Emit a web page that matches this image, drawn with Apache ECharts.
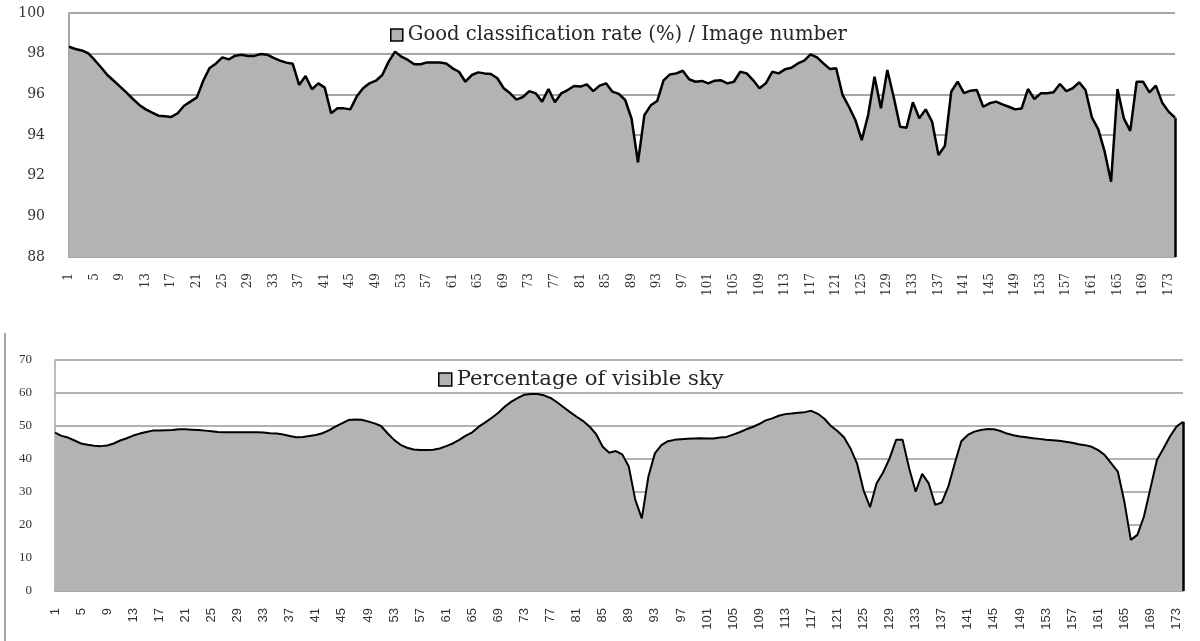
<!DOCTYPE html>
<html><head><meta charset="utf-8">
<script src="https://cdn.jsdelivr.net/npm/echarts@6/dist/echarts.min.js"></script>
<style>html,body{margin:0;padding:0;background:#fff}#c{width:1200px;height:641px}</style>
</head><body><div id="c"></div>
<script>
// Image numbers 1..174 (category labels)
const categories = [];
for (let i = 1; i <= 174; i++) categories.push(String(i));

const rateName = 'Good classification rate (%) / Image number';
const skyName = 'Percentage of visible sky';

const rateTicks = { min: 88, max: 100, interval: 2 };
const skyTicks = { min: 0, max: 70, interval: 10 };

const rateValues = [
  98.34, 98.23, 98.16, 98.02, 97.69, 97.33, 96.95, 96.67, 96.38, 96.08,
  95.77, 95.48, 95.26, 95.10, 94.95, 94.92, 94.89, 95.07, 95.44, 95.64,
  95.85, 96.67, 97.30, 97.52, 97.82, 97.72, 97.90, 97.95, 97.89, 97.89,
  97.98, 97.95, 97.79, 97.66, 97.56, 97.50, 96.46, 96.90, 96.25, 96.54,
  96.33, 95.07, 95.31, 95.31, 95.26, 95.89, 96.30, 96.54, 96.67, 96.95,
  97.61, 98.10, 97.85, 97.69, 97.48, 97.48, 97.57, 97.57, 97.56, 97.52,
  97.28, 97.11, 96.62, 96.95, 97.08, 97.03, 97.00, 96.79, 96.30, 96.05,
  95.74, 95.87, 96.16, 96.05, 95.64, 96.26, 95.61, 96.05, 96.21, 96.41,
  96.38, 96.49, 96.16, 96.43, 96.54, 96.13, 96.02, 95.72, 94.80, 92.65,
  94.98, 95.46, 95.67, 96.69, 96.98, 97.03, 97.16, 96.74, 96.62, 96.66,
  96.54, 96.67, 96.69, 96.54, 96.62, 97.11, 97.03, 96.70, 96.30, 96.54,
  97.11, 97.03, 97.23, 97.31, 97.52, 97.66, 97.97, 97.82, 97.52, 97.25,
  97.28, 95.97, 95.39, 94.74, 93.75, 94.98, 96.87, 95.31, 97.20, 95.87,
  94.41, 94.36, 95.61, 94.82, 95.26, 94.66, 93.02, 93.46, 96.13, 96.62,
  96.06, 96.18, 96.21, 95.39, 95.56, 95.64, 95.51, 95.39, 95.26, 95.30,
  96.26, 95.77, 96.05, 96.05, 96.10, 96.51, 96.16, 96.30, 96.59, 96.21,
  94.87, 94.28, 93.18, 91.70, 96.26, 94.82, 94.20, 96.62, 96.62, 96.10,
  96.43, 95.59, 95.15, 94.85
];

const skyValues = [
  48.0, 47.0, 46.5, 45.6, 44.7, 44.3, 44.0, 43.9, 44.1, 44.7,
  45.6, 46.3, 47.1, 47.7, 48.2, 48.6, 48.6, 48.7, 48.8, 49.0,
  49.0, 48.9, 48.8, 48.6, 48.4, 48.2, 48.1, 48.1, 48.1, 48.1,
  48.1, 48.1, 48.0, 47.8, 47.7, 47.4, 47.0, 46.6, 46.7, 47.0,
  47.3, 47.8, 48.7, 49.8, 50.8, 51.8, 52.0, 51.9, 51.4, 50.8,
  50.0, 47.8, 45.8, 44.3, 43.4, 42.9, 42.7, 42.7, 42.8, 43.2,
  43.9, 44.7, 45.8, 47.1, 48.1, 49.8, 51.1, 52.5, 54.0, 55.9,
  57.4, 58.5, 59.5, 59.7, 59.7, 59.3, 58.5, 57.2, 55.7, 54.2,
  52.8, 51.5, 49.8, 47.5, 43.7, 41.9, 42.4, 41.4, 37.7, 27.6,
  22.0, 34.6, 41.7, 44.2, 45.4, 45.8, 46.0, 46.1, 46.2, 46.3,
  46.2, 46.2, 46.5, 46.7, 47.4, 48.1, 49.0, 49.7, 50.6, 51.7,
  52.3, 53.1, 53.6, 53.8, 54.0, 54.2, 54.6, 53.7, 52.2, 50.0,
  48.5, 46.6, 43.2, 38.7, 30.6, 25.4, 32.6, 35.9, 40.2, 45.8,
  45.8, 37.2, 30.1, 35.5, 32.6, 26.1, 26.8, 31.6, 38.7, 45.4,
  47.3, 48.3, 48.8, 49.1, 49.0, 48.5, 47.7, 47.2, 46.8, 46.6,
  46.3, 46.1, 45.8, 45.7, 45.5, 45.2, 44.9, 44.5, 44.2, 43.7,
  42.7, 41.2, 38.7, 36.2, 27.1, 15.5, 17.0, 22.5, 31.1, 39.7,
  43.2, 46.8, 49.8, 51.3
];

const chart = echarts.init(document.getElementById('c'));
const lastCat = categories[categories.length - 1];
const grey = '#a6a6a6';
const fill = '#b3b3b3';

chart.setOption({
  animation: false,
  backgroundColor: '#fff',
  graphic: [{
    type: 'line', shape: { x1: 5, y1: 333, x2: 5, y2: 641 },
    style: { stroke: grey, lineWidth: 2 }
  }],
  grid: [
    { left: 69, right: 25, top: 13, height: 244 },
    { left: 55, right: 17, top: 360, height: 231 }
  ],
  legend: [
    {
      data: [rateName], left: 390, top: 25, padding: 0,
      icon: 'rect', itemWidth: 12, itemHeight: 12, itemGap: 7, selectedMode: false,
      itemStyle: { color: fill, borderColor: '#000', borderWidth: 1.5 },
      textStyle: { fontFamily: 'DejaVu Serif', fontSize: 19.6, color: '#262626' }
    },
    {
      data: [skyName], left: 438, top: 369, padding: 0,
      icon: 'rect', itemWidth: 13, itemHeight: 13, itemGap: 7, selectedMode: false,
      itemStyle: { color: fill, borderColor: '#000', borderWidth: 1.5 },
      textStyle: { fontFamily: 'DejaVu Serif', fontSize: 21.2, color: '#262626' }
    }
  ],
  xAxis: [
    {
      type: 'category', gridIndex: 0, data: categories, boundaryGap: false,
      axisLine: { lineStyle: { color: grey, width: 2 } }, axisTick: { show: false },
      axisLabel: { interval: 3, rotate: 90, margin: 16, fontFamily: 'DejaVu Serif', fontSize: 12, color: '#333' },
      splitLine: { show: false }
    },
    {
      type: 'category', gridIndex: 1, data: categories, boundaryGap: false,
      axisLine: { lineStyle: { color: grey, width: 2 } }, axisTick: { show: false },
      axisLabel: { interval: 3, rotate: 90, margin: 17, fontFamily: 'Liberation Sans', fontSize: 13, color: '#333' },
      splitLine: { show: false }
    }
  ],
  yAxis: [
    {
      type: 'value', gridIndex: 0, min: rateTicks.min, max: rateTicks.max, interval: rateTicks.interval,
      axisLine: { show: true, lineStyle: { color: grey, width: 2 } }, axisTick: { show: false },
      splitLine: { lineStyle: { color: grey, width: 2 } },
      axisLabel: { margin: 24, fontFamily: 'DejaVu Serif', fontSize: 14, color: '#333' }
    },
    {
      type: 'value', gridIndex: 1, min: skyTicks.min, max: skyTicks.max, interval: skyTicks.interval,
      axisLine: { show: true, lineStyle: { color: grey, width: 1.5 } }, axisTick: { show: false },
      splitLine: { lineStyle: { color: '#999', width: 1.5 } },
      axisLabel: { margin: 23, fontFamily: 'Liberation Serif', fontSize: 13, color: '#333' }
    }
  ],
  series: [
    {
      name: rateName, type: 'line', xAxisIndex: 0, yAxisIndex: 0, data: rateValues,
      symbol: 'none', lineStyle: { color: '#000', width: 2.5 }, itemStyle: { color: fill },
      areaStyle: { color: fill, opacity: 1, origin: 'start' },
      markLine: {
        silent: true, symbol: 'none', label: { show: false },
        lineStyle: { color: '#000', width: 2.5, type: 'solid' },
        data: [[{ coord: [lastCat, rateValues[rateValues.length - 1]] }, { coord: [lastCat, rateTicks.min] }]]
      }
    },
    {
      name: skyName, type: 'line', xAxisIndex: 1, yAxisIndex: 1, data: skyValues,
      symbol: 'none', lineStyle: { color: '#000', width: 2 }, itemStyle: { color: fill },
      areaStyle: { color: fill, opacity: 1, origin: 'start' },
      markLine: {
        silent: true, symbol: 'none', label: { show: false },
        lineStyle: { color: '#000', width: 2.5, type: 'solid' },
        data: [[{ coord: [lastCat, skyValues[skyValues.length - 1]] }, { coord: [lastCat, skyTicks.min] }]]
      }
    }
  ]
});
</script>
</body></html>
